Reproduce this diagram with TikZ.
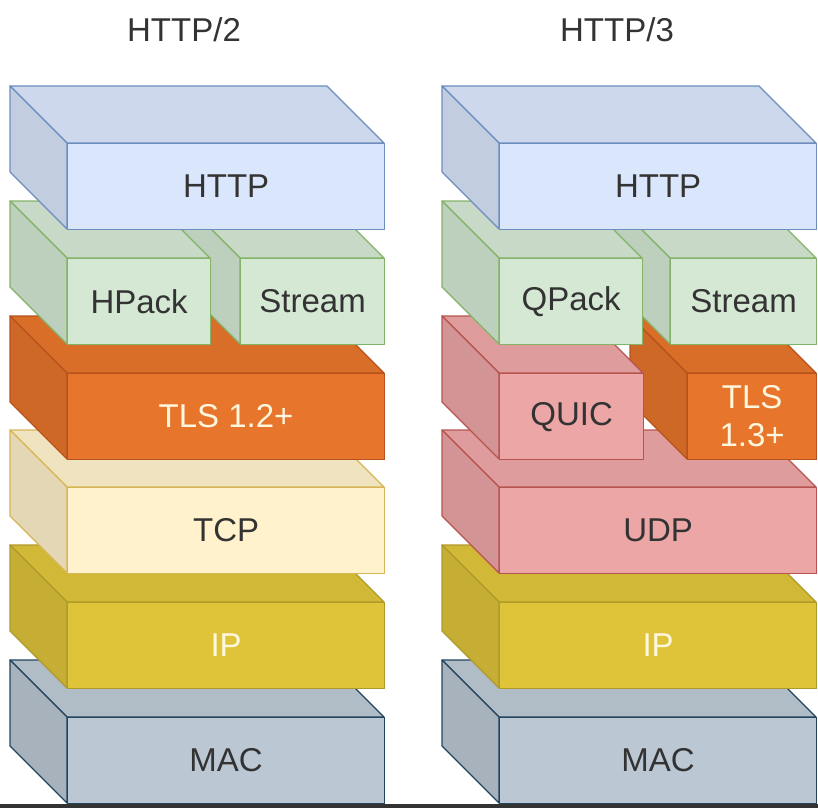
\documentclass[tikz,border=0pt]{standalone}
\usepackage{fontspec}
\setmainfont{Liberation Sans}
\usetikzlibrary{positioning}

\definecolor{httpfill}{RGB}{218,230,251}
\definecolor{httpline}{RGB}{108,142,191}
\definecolor{grnfill}{RGB}{213,232,212}
\definecolor{grnline}{RGB}{130,179,102}
\definecolor{tlsfill}{RGB}{231,117,44}
\definecolor{tlsline}{RGB}{184,82,28}
\definecolor{tcpfill}{RGB}{255,242,204}
\definecolor{tcpline}{RGB}{214,182,86}
\definecolor{ipfill}{RGB}{223,196,58}
\definecolor{ipline}{RGB}{176,154,40}
\definecolor{macfill}{RGB}{187,200,211}
\definecolor{macline}{RGB}{35,68,93}
\definecolor{udpfill}{RGB}{236,166,166}
\definecolor{udpline}{RGB}{184,84,80}
\definecolor{darktext}{RGB}{51,51,51}
\definecolor{lighttext}{RGB}{255,246,222}

\tikzset{
	layerbox/.style={rectangle, line width=1.2pt, inner sep=0pt, minimum height=86,
		align=center, font=\fontsize{33}{38}\selectfont},
	title/.style={text=darktext, font=\fontsize{33}{38}\selectfont}
}

\newcommand{\layer}[8]{%
	\filldraw[#5!94!black, draw=#6, line width=1.2pt, line join=round] (#2,#3) -- ++(#4,0) -- ++(57,57) -- ++(-#4,0) -- cycle;
	\filldraw[#5!89!black, draw=#6, line width=1.2pt, line join=round] (#2,#3) -- ++(57,57) -- ++(0,86) -- ++(-57,-57) -- cycle;
	\node[layerbox, fill=#5, draw=#6, text=#7, minimum width=#4, anchor=north west] (#1) at (#2+57,#3+57) {#8};
}

\begin{document}
\begin{tikzpicture}[x=1pt, y=-1pt]
	\useasboundingbox (0,0) rectangle (818,808);
	\node[title] (title2) at (184,30) {HTTP/2};
	\node[title] (title3) at (617,30) {HTTP/3};
	\layer{mac2}{10}{660}{317}{macfill}{macline}{darktext}{MAC}
	\layer{ip2}{10}{545}{317}{ipfill}{ipline}{lighttext}{IP}
	\layer{tcp}{10}{430}{317}{tcpfill}{tcpline}{darktext}{TCP}
	\layer{tls2}{10}{316}{317}{tlsfill}{tlsline}{lighttext}{TLS 1.2+}
	\layer{stream2}{183}{201}{144}{grnfill}{grnline}{darktext}{Stream}
	\layer{hpack}{10}{201}{143}{grnfill}{grnline}{darktext}{HPack}
	\layer{http2}{10}{86}{317}{httpfill}{httpline}{darktext}{HTTP}
	\layer{mac3}{442}{660}{317}{macfill}{macline}{darktext}{MAC}
	\layer{ip3}{442}{545}{317}{ipfill}{ipline}{lighttext}{IP}
	\layer{udp}{442}{430}{317}{udpfill}{udpline}{darktext}{UDP}
	\layer{tls3}{630}{316}{129}{tlsfill}{tlsline}{lighttext}{TLS\\1.3+}
	\layer{quic}{442}{316}{144}{udpfill}{udpline}{darktext}{QUIC}
	\layer{stream3}{613}{201}{146}{grnfill}{grnline}{darktext}{Stream}
	\layer{qpack}{442}{201}{143}{grnfill}{grnline}{darktext}{QPack}
	\layer{http3}{442}{86}{317}{httpfill}{httpline}{darktext}{HTTP}
	\fill[darktext] (0,804) rectangle (818,808);
\end{tikzpicture}
\end{document}
